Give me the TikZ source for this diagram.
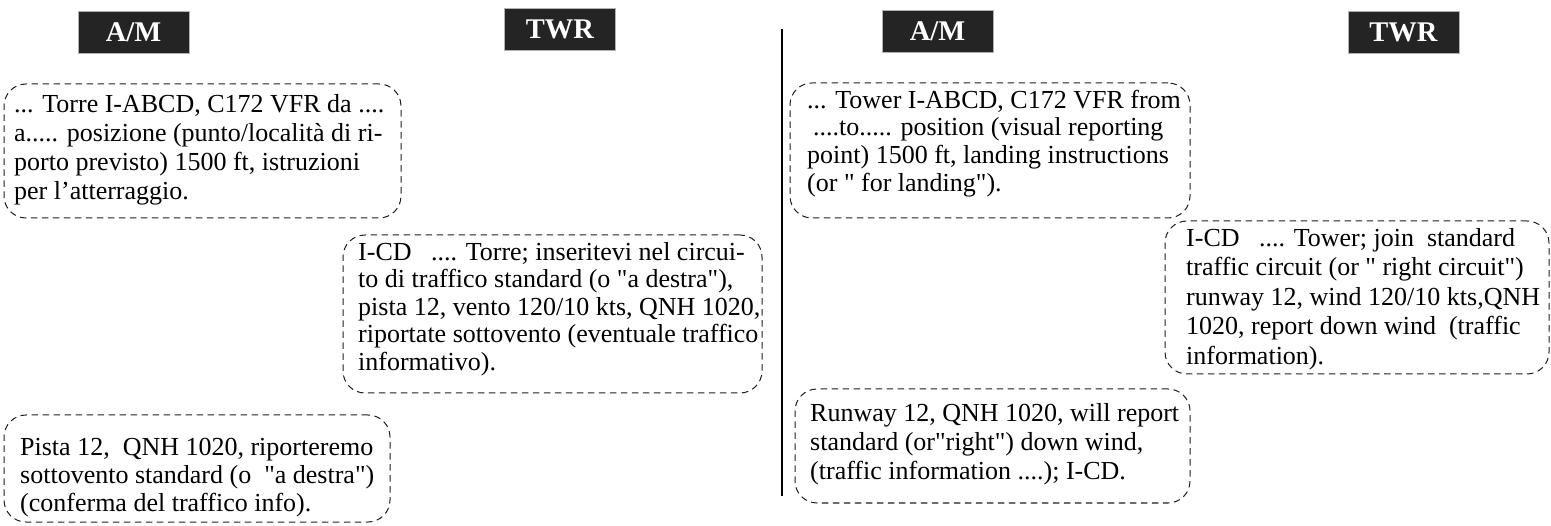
\documentclass[tikz,border=0pt]{standalone}
\usepackage{fontspec}
\setmainfont{Liberation Serif}
\definecolor{hdr}{HTML}{242424}
\definecolor{dashc}{HTML}{1E1E1E}
\newcommand{\sq}{\XeTeXglyph\XeTeXcharglyph"22\relax}
\begin{document}
\begin{tikzpicture}[x=1pt,y=-1pt,
  hdrbox/.style={fill=hdr, draw=gray!60, line width=0.7pt, text=white,
    font=\bfseries\fontsize{28.5}{30}\selectfont,
    minimum width=111pt, minimum height=42pt, inner sep=0pt},
  msgbox/.style={draw=dashc, dash pattern=on 6.5pt off 4.5pt, line width=1pt,
    rounded corners=22pt, inner sep=0pt},
  txt/.style={inner sep=0pt, anchor=north west, align=left},
  fa/.style={font=\fontsize{26}{29}\selectfont},
  fb/.style={font=\fontsize{26}{27.5}\selectfont},
  fc/.style={font=\fontsize{26}{28}\selectfont},
  fd/.style={font=\fontsize{26}{27.7}\selectfont},
  fe/.style={font=\fontsize{26}{29.5}\selectfont},
]
\useasboundingbox (0,0) rectangle (1551,526);

% headers
\node[hdrbox] (am1) at (133.5,32) {A/M};
\node[hdrbox] (tw1) at (560,29.5) {TWR};
\node[hdrbox] (am2) at (937.5,31) {A/M};
\node[hdrbox] (tw2) at (1403.5,32) {TWR};

% divider
\coordinate (vtop) at (782,29);
\coordinate (vbot) at (782,496);
\draw[line width=2pt] (vtop) -- (vbot);

% message boxes
\node[msgbox, minimum width=397pt, minimum height=134pt] (b1) at (202.5,151) {};
\node[msgbox, minimum width=419pt, minimum height=158pt] (b2) at (552.5,314) {};
\node[msgbox, minimum width=386pt, minimum height=107pt] (b3) at (197,468.5) {};
\node[msgbox, minimum width=400pt, minimum height=135pt] (b4) at (990,150.5) {};
\node[msgbox, minimum width=384pt, minimum height=153pt] (b5) at (1357,297.5) {};
\node[msgbox, minimum width=395pt, minimum height=114pt] (b6) at (992.5,446) {};

% texts
\node[txt, fa] (t1) at (14,91.7) {\strut... Torre I-ABCD, C172 VFR da ....\\
a..... posizione (punto/località di ri-\\
porto previsto) 1500 ft, istruzioni\\
per l'atterraggio.};

\node[txt, fb] (t2) at (358,240.7) {\strut I-CD\ \ \ .... Torre; inseritevi nel circui-\\
to di traffico standard (o \sq a destra\sq),\\
pista 12, vento 120/10 kts, QNH 1020,\\
riportate sottovento (eventuale traffico\\
informativo).};

\node[txt, fc] (t3) at (20,435.4) {\strut Pista 12,\ \ QNH 1020, riporteremo\\
sottovento standard (o\ \ \sq a destra\sq)\\
(conferma del traffico info).};

\node[txt, fd] (t4) at (807,88.6) {\strut... Tower I-ABCD, C172 VFR from\\
\hspace*{6pt}....to..... position (visual reporting\\
point) 1500 ft, landing instructions\\
(or \sq{} for landing\sq).};

\node[txt, fe] (t5) at (1186,225.4) {\strut I-CD\ \ \ .... Tower; join\ \ standard\\
traffic circuit (or \sq{} right circuit\sq)\\
runway 12, wind 120/10 kts,QNH\\
1020, report down wind\ \ (traffic\\
information).};

\node[txt, fa] (t6) at (810,400.7) {\strut Runway 12, QNH 1020, will report\\
standard (or\sq right\sq) down wind,\\
(traffic information ....); I-CD.};
\end{tikzpicture}
\end{document}
